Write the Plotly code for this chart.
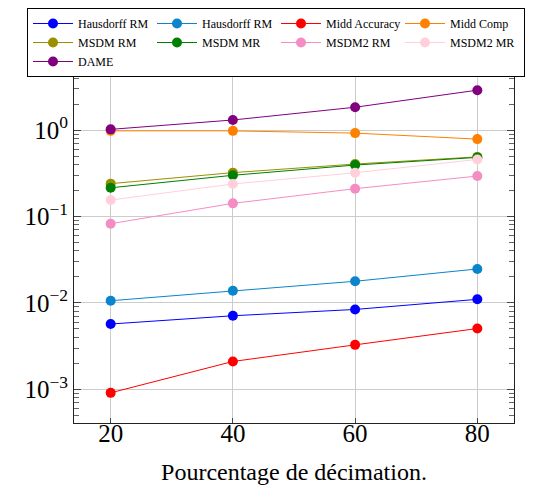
import plotly.graph_objects as go

x_vals = [20, 40, 60, 80]

series_names = ["Hausdorff RM", "Hausdorff RM", "Midd Accuracy", "Midd Comp",
                "MSDM RM", "MSDM MR", "MSDM2 RM", "MSDM2 MR", "DAME"]
hausdorff_rm_1 = [0.0057, 0.0071, 0.0084, 0.0110]
hausdorff_rm_2 = [0.0106, 0.0138, 0.0178, 0.0247]
midd_accuracy = [0.00091, 0.0021, 0.00327, 0.00505]
midd_comp = [0.98, 0.98, 0.923, 0.787]
msdm_rm = [0.240, 0.322, 0.405, 0.490]
msdm_mr = [0.215, 0.300, 0.394, 0.483]
msdm2_rm = [0.0826, 0.142, 0.210, 0.294]
msdm2_mr = [0.155, 0.238, 0.321, 0.458]
dame = [1.02, 1.31, 1.84, 2.90]

series_values = [hausdorff_rm_1, hausdorff_rm_2, midd_accuracy, midd_comp,
                 msdm_rm, msdm_mr, msdm2_rm, msdm2_mr, dame]
colors = ["#0000ff", "#0a84cc", "#ff0000", "#ff8000",
          "#998f00", "#008000", "#f58cc4", "#ffd0dc", "#800080"]

y_tickvals = [0.001, 0.01, 0.1, 1]
y_ticktext = ["10<sup>−3</sup>", "10<sup>−2</sup>", "10<sup>−1</sup>", "10<sup>0</sup>"]
x_tickvals = [20, 40, 60, 80]
minor_decades = [0.0001, 0.001, 0.01, 0.1, 1]
y_minor_vals = [d * k for d in minor_decades for k in range(2, 10)]

fig = go.Figure()
for name, vals, col in zip(series_names, series_values, colors):
    fig.add_trace(go.Scatter(
        x=x_vals, y=vals, name=name, mode="lines+markers",
        line=dict(color=col, width=1),
        marker=dict(color=col, size=10, symbol="circle"),
    ))

serif = "Liberation Serif"
# page body has an 8px margin, so the figure is 8px smaller than the window
W, H = 549, 489
L, T, PW, PH = 66, 53, 440, 362
fig.update_layout(
    width=W, height=H,
    margin=dict(l=L, r=W - L - PW, t=T, b=H - T - PH, autoexpand=False),
    plot_bgcolor="white", paper_bgcolor="white",
    font=dict(family=serif, color="black", size=24),
    showlegend=True,
    legend=dict(
        orientation="h", xref="paper", yref="paper",
        x=(19 - L) / PW, y=1 + (T - 0) / PH, xanchor="left", yanchor="top",
        bgcolor="white", bordercolor="black", borderwidth=1,
        font=dict(family=serif, size=12, color="black"),
        entrywidth=69, entrywidthmode="pixels", itemwidth=40,
        tracegroupgap=0,
    ),
    xaxis=dict(
        range=[14, 86], tickvals=x_tickvals,
        showgrid=True, gridcolor="#cccccc", gridwidth=1,
        showline=True, linecolor="#222222", linewidth=1, mirror="allticks",
        ticks="inside", ticklen=5, tickcolor="#444444",
        tickfont=dict(family=serif, size=25),
        ticklabelstandoff=-12,
        title=dict(text="Pourcentage de décimation.", font=dict(family=serif, size=24), standoff=17),
        zeroline=False,
    ),
    yaxis=dict(
        type="log", range=[-3.39, 0.80],
        tickvals=y_tickvals, ticktext=y_ticktext,
        showgrid=True, gridcolor="#cccccc", gridwidth=1,
        showline=True, linecolor="#222222", linewidth=1, mirror="allticks",
        ticks="inside", ticklen=7, tickcolor="#444444",
        tickfont=dict(family=serif, size=25),
        ticklabelstandoff=0,
        minor=dict(tickmode="array", tickvals=y_minor_vals, ticks="inside",
                   ticklen=5, tickcolor="#666666", showgrid=False),
        zeroline=False,
    ),
)

fig.write_html("out.html")
